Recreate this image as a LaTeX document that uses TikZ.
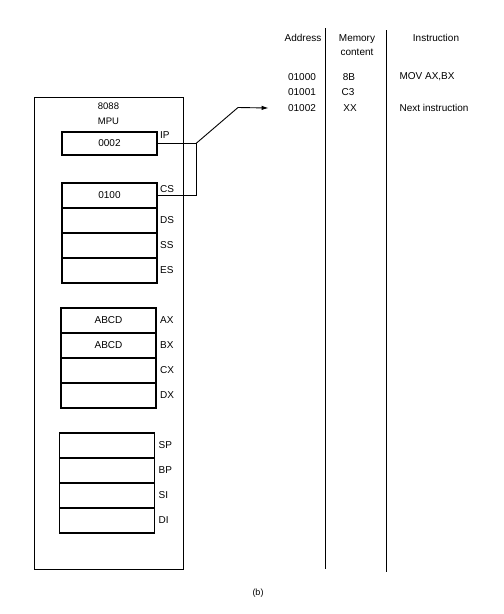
\documentclass[tikz,border=0pt]{standalone}
\usepackage{fontspec}
\setmainfont{Liberation Sans}
\usetikzlibrary{arrows.meta, positioning}

\begin{document}
\begin{tikzpicture}[
    x=1pt, y=-1pt,
    every node/.style={font=\fontsize{10pt}{12pt}\selectfont},
    reg/.style={rectangle, draw, line width=1.2pt, minimum width=95pt, minimum height=25pt, inner sep=0pt, outer sep=0pt, font=\fontsize{10pt}{12pt}\selectfont},
    reglbl/.style={inner sep=0pt, font=\fontsize{10pt}{12pt}\selectfont},
    mpubox/.style={rectangle, draw, line width=1pt, minimum width=149pt, minimum height=472pt, inner sep=0pt, outer sep=0pt},
    wire/.style={line width=1pt},
    arrow/.style={-{Latex[length=7pt, width=4.5pt]}, line width=0.9pt},
    colline/.style={line width=1pt}
]
\useasboundingbox (0,0) rectangle (504,614);

% MPU outline
\node[mpubox] (mpu) at (108.5,333) {};
\node[below=6pt of mpu.north, align=center, inner sep=0pt, font=\fontsize{9.5pt}{15pt}\selectfont] (mputitle) {8088\\MPU};

% instruction pointer and segment registers
\node[reg, minimum height=23pt] (ip) at (109.5,143.5) {0002};
\node[reg] (cs) at (109.5,195.5) {0100};
\node[reg, below=0pt of cs] (ds) {};
\node[reg, below=0pt of ds] (ss) {};
\node[reg, below=0pt of ss] (es) {};

\node[reglbl, above right=5pt and 3pt of ip.east] (iplbl) {IP};
\node[reglbl, above right=3pt and 3pt of cs.east] (cslbl) {CS};
\node[reglbl, right=3pt of ds] (dslbl) {DS};
\node[reglbl, right=3pt of ss] (sslbl) {SS};
\node[reglbl, right=3pt of es] (eslbl) {ES};

% data registers
\node[reg] (ax) at (108.5,320.5) {ABCD};
\node[reg, below=0pt of ax] (bx) {ABCD};
\node[reg, below=0pt of bx] (cx) {};
\node[reg, below=0pt of cx] (dx) {};

\node[reglbl, right=4pt of ax] (axlbl) {AX};
\node[reglbl, right=4pt of bx] (bxlbl) {BX};
\node[reglbl, right=4pt of cx] (cxlbl) {CX};
\node[reglbl, right=4pt of dx] (dxlbl) {DX};

% pointer and index registers
\node[reg] (sp) at (107,445.5) {};
\node[reg, below=0pt of sp] (bp) {};
\node[reg, below=0pt of bp] (si) {};
\node[reg, below=0pt of si] (di) {};

\node[reglbl, right=4pt of sp] (splbl) {SP};
\node[reglbl, right=4pt of bp] (bplbl) {BP};
\node[reglbl, right=4pt of si] (silbl) {SI};
\node[reglbl, right=4pt of di] (dilbl) {DI};

% memory table
\node (addr) at (303,38) {Address};
\node[align=center, font=\fontsize{10pt}{14pt}\selectfont] (mem) at (357,45) {Memory\\content};
\node (instr) at (436,38) {Instruction};

\node (a1) at (302,77) {01000};
\node (a2) at (302,92) {01001};
\node (a3) at (302,108) {01002};
\node (m1) at (349,77) {8B};
\node (m2) at (348,92) {C3};
\node (m3) at (350,108) {XX};
\node[anchor=west] (i1) at (396,77) {MOV AX,BX};
\node[anchor=west] (i3) at (396,108) {Next instruction};

\coordinate (col1top) at (325,28);
\coordinate (col1bot) at (325,569);
\coordinate (col2top) at (386,30);
\coordinate (col2bot) at (386,572);
\draw[colline] (col1top) -- (col1bot);
\draw[colline] (col2top) -- (col2bot);

% CS:IP -> physical address
\coordinate (jct) at ([xshift=39pt]ip.east);
\coordinate (bend) at (238,107.5);
\draw[wire] (ip.east) -- (jct) |- (cs.east);
\draw[arrow] (jct) -- (bend) -- ([xshift=-16pt]a3.west);

\node[font=\fontsize{9pt}{11pt}\selectfont] (caption) at (258,593) {(b)};

\end{tikzpicture}
\end{document}
